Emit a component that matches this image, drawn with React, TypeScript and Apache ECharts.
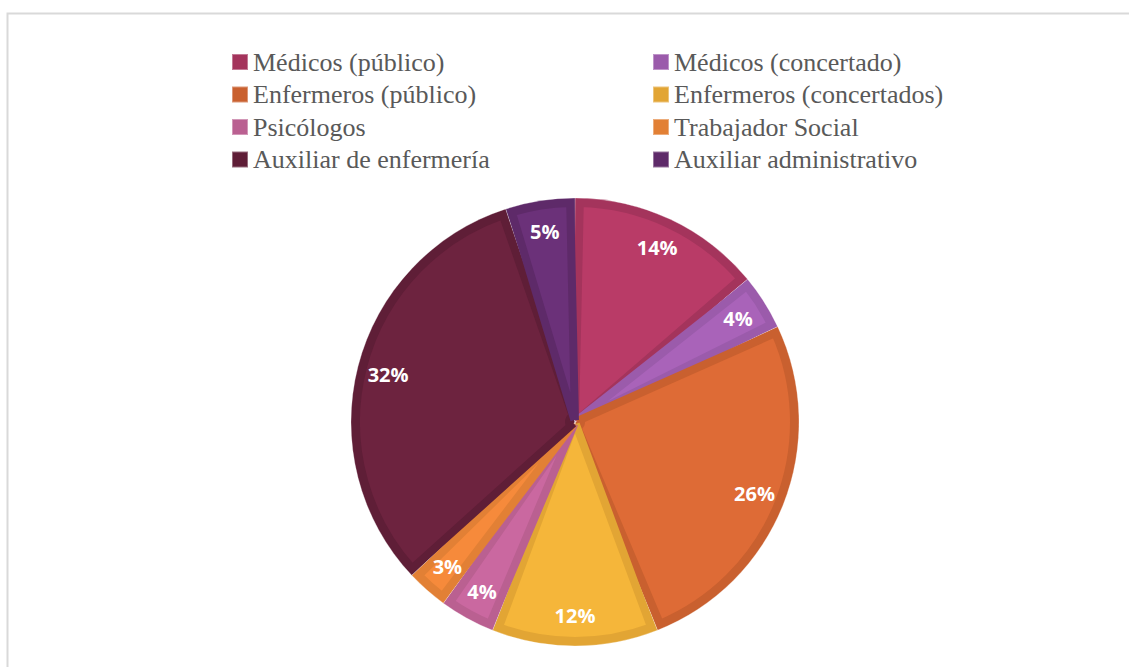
import React, { useEffect, useRef } from "react";
import * as echarts from "echarts";

const categories = [
  "Médicos (público)",
  "Médicos (concertado)",
  "Enfermeros (público)",
  "Enfermeros (concertados)",
  "Psicólogos",
  "Trabajador Social",
  "Auxiliar de enfermería",
  "Auxiliar administrativo",
];
const values = [14, 4, 26, 12, 4, 3, 32, 5];
const darkColors = ["#A4345C", "#9B5BAB", "#C9602F", "#E2A534", "#BA6091", "#E28035", "#5F1E37", "#5E2A69"];
const lightColors = ["#B93B67", "#A963B9", "#DE6B36", "#F5B63A", "#CA68A0", "#F68A3B", "#6D233F", "#6B3179"];

const leftCol = [0, 2, 4, 6];
const rightCol = [1, 3, 5, 7];

export default function App() {
  const ref = useRef<HTMLDivElement>(null);
  useEffect(() => {
    if (!ref.current) return;
    const chart = echarts.init(ref.current, null, { renderer: "svg" });
    const center = [575, 422];
    const R = 224;
    const legendBase = {
      orient: "vertical",
      top: 49,
      padding: 0,
      itemWidth: 16,
      itemHeight: 16,
      itemGap: 6.5,
      icon: "rect",
      selectedMode: false,
      textStyle: {
        fontFamily: "Liberation Serif",
        fontSize: 26,
        lineHeight: 24,
        color: "#595959",
        padding: [0, 0, 0, 0],
      },
    };
    chart.setOption({
      animation: false,
      graphic: [
        {
          type: "rect",
          shape: { x: 7.5, y: 13.5, width: 1300, height: 800 },
          style: { fill: "none", stroke: "#D9D9D9", lineWidth: 2 },
          silent: true,
        },
      ],
      legend: [
        { ...legendBase, left: 231, data: leftCol.map((i) => categories[i]) },
        { ...legendBase, left: 652, data: rightCol.map((i) => categories[i]) },
      ],
      series: [
        {
          type: "pie",
          name: "base",
          center,
          radius: [0, R],
          startAngle: 90,
          clockwise: true,
          silent: true,
          label: { show: false },
          labelLine: { show: false },
          itemStyle: { borderColor: "rgba(255,255,255,0.35)", borderWidth: 0.8 },
          data: categories.map((c, i) => ({
            name: c,
            value: values[i],
            itemStyle: { color: darkColors[i] },
          })),
        },
        {
          type: "pie",
          name: "inner",
          center,
          radius: [6, R - 5],
          startAngle: 90,
          clockwise: true,
          padAngle: 2.5,
          silent: true,
          legendHoverLink: false,
          label: { show: false },
          labelLine: { show: false },
          data: categories.map((c, i) => ({
            name: c,
            value: values[i],
            itemStyle: {
              color: lightColors[i],
              borderColor: darkColors[i],
              borderWidth: 8,
              borderJoin: "miter",
            },
          })),
        },
        {
          type: "pie",
          name: "labels",
          center,
          radius: [156, R],
          startAngle: 90,
          clockwise: true,
          silent: true,
          itemStyle: { color: "rgba(0,0,0,0)" },
          label: {
            show: true,
            position: "inside",
            formatter: (p: any) => `${p.value}%`,
            color: "#FFFFFF",
            fontFamily: "Open Sans",
            fontWeight: "bold",
            fontSize: 20,
          },
          labelLine: { show: false },
          data: categories.map((c, i) => ({ name: c, value: values[i] })),
        },
      ],
    });
    return () => chart.dispose();
  }, []);
  return (
    <div
      ref={ref}
      style={{ position: "fixed", left: 0, top: 0, width: 1129, height: 667, background: "#fff" }}
    />
  );
}
